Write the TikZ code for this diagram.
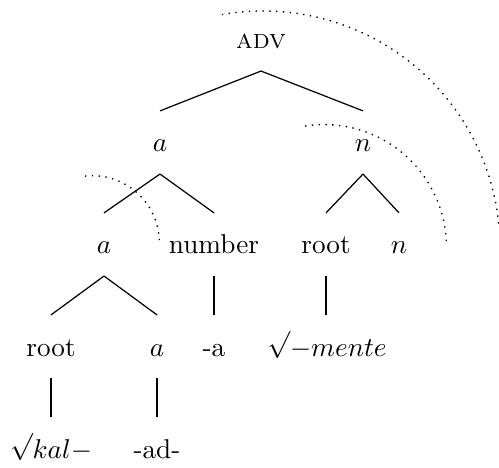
\documentclass[tikz,border=0pt]{standalone}
\usetikzlibrary{calc}
\newcommand\rtsign{\sqrt{\vphantom{k}}}
\begin{document}
\begin{tikzpicture}[x=0.3675pt,y=-0.3675pt,
  lab/.style={anchor=base,inner sep=0pt},
  br/.style={line width=0.45pt},
  arcl/.style={dotted,line width=0.5pt}]
\useasboundingbox (0,0) rectangle (499,468);
% nodes
\node[lab] (adv) at (261,49) {\textsc{adv}};
\node[lab] (a1) at (160,152) {$a$};
\node[lab] (n1) at (363,152) {$n$};
\node[lab] (a2) at (104,254) {$a$};
\node[lab] (num) at (214,254) {number};
\node[lab] (root1) at (326,254) {root};
\node[lab] (n2) at (399,254) {$n$};
\node[lab] (root2) at (51,356) {root};
\node[lab] (a3) at (157,356) {$a$};
\node[lab] (sa) at (214,356) {-a};
\node[lab] (mente) at (327,356) {$\rtsign{-}mente$};
\node[lab] (kal) at (51,458) {$\rtsign kal{-}$};
\node[lab] (ad) at (157,458) {-ad-};
% branches
\foreach \p/\c in {adv/a1,adv/n1,a1/a2,a1/num,n1/root1,n1/n2,a2/root2,a2/a3}
  \draw[br] ($(\p.base)+(0,-8.1pt)$) -- ($(\c.base)+(0,15.1pt)$);
\foreach \p/\c in {num/sa,root1/mente,root2/kal,a3/ad}
  \draw[br] ($(\p.base)+(0,-8.1pt)$) -- ($(\p.base |- \c.base)+(0,15.1pt)$);
% dotted arcs
\coordinate (c1) at (263,248);
\coordinate (c2) at (324,247);
\coordinate (c3) at (92.5,242.5);
\draw[arcl] ($(c1)+(100:87.1pt)$) arc[start angle=100,end angle=5,radius=87.1pt];
\draw[arcl] ($(c2)+(98.9:45.0pt)$) arc[start angle=98.9,end angle=0.9,radius=45.0pt];
\draw[arcl] ($(c3)+(96.4:24.55pt)$) arc[start angle=96.4,end angle=2.1,radius=24.55pt];
\end{tikzpicture}
\end{document}
